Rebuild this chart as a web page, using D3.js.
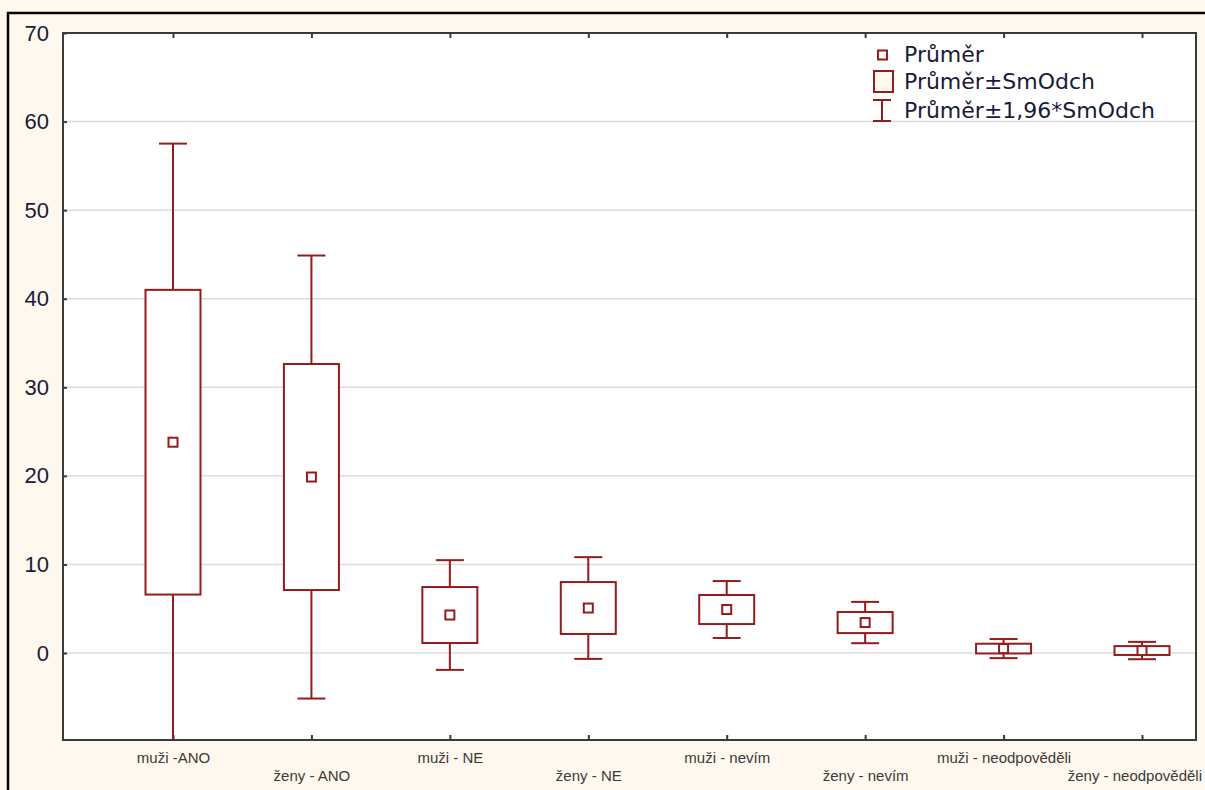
<!DOCTYPE html>
<html>
<head>
<meta charset="utf-8">
<script src="https://cdn.jsdelivr.net/npm/d3@7"></script>
<style>
  html, body { margin: 0; padding: 0; background: #fff8ee; }
  svg { display: block; }
</style>
</head>
<body>
<svg id="chart" width="1205" height="790"></svg>
<script>
// Groups (respondents by sex and answer)
const categories = [
  "muži -ANO", "ženy - ANO", "muži - NE", "ženy - NE",
  "muži - nevím", "ženy - nevím", "muži - neodpověděli", "ženy - neodpověděli"
];
// Mean per group
const means = [23.8, 19.87, 4.29, 5.08, 4.91, 3.44, 0.50, 0.28];
// Standard deviation per group
const sds = [17.2, 12.76, 3.16, 2.93, 1.64, 1.19, 0.55, 0.50];
// Y-axis tick values
const yTicks = [0, 10, 20, 30, 40, 50, 60, 70];
// Legend entries
const legendLabels = ["Průměr", "Průměr±SmOdch", "Průměr±1,96*SmOdch"];

const W = 1205, H = 790;
const plot = { left: 63, top: 33, right: 1196, bottom: 740 };
const red = "#931c1c";
const frame = "#3a3a3a";

const svg = d3.select("#chart");

// outer frame
svg.append("path")
  .attr("d", `M8,${H + 5} L8,13 L${W + 5},13`)
  .attr("fill", "none").attr("stroke", "#000").attr("stroke-width", 2.5);

const y = d3.scaleLinear().domain([-9.82, 70]).range([plot.bottom, plot.top]);
const x = d3.scalePoint().domain(categories)
  .range([plot.left + 110, plot.right - 54]);

// plot background
svg.append("rect")
  .attr("x", plot.left).attr("y", plot.top)
  .attr("width", plot.right - plot.left).attr("height", plot.bottom - plot.top)
  .attr("fill", "#fff");

svg.append("clipPath").attr("id", "clip")
  .append("rect")
  .attr("x", plot.left).attr("y", plot.top)
  .attr("width", plot.right - plot.left).attr("height", plot.bottom - plot.top);

// horizontal grid
svg.append("g").selectAll("line").data(yTicks).join("line")
  .attr("x1", plot.left).attr("x2", plot.right)
  .attr("y1", d => y(d)).attr("y2", d => y(d))
  .attr("stroke", "#dcdcdc").attr("stroke-width", 1.5);

// y axis labels and ticks
const yAxis = d3.axisLeft(y).tickValues(yTicks).tickSize(-4).tickPadding(14);
const gy = svg.append("g").attr("transform", `translate(${plot.left},0)`).call(yAxis);
gy.select(".domain").remove();
gy.selectAll(".tick line").attr("stroke", frame).attr("stroke-width", 2);
gy.selectAll(".tick text")
  .attr("font-family", "Liberation Sans, Arial, sans-serif")
  .attr("font-size", 22).attr("fill", "#1a1a38");

// top and bottom category ticks (inside)
const xTop = d3.axisTop(x).tickSize(-5).tickFormat("");
const gxt = svg.append("g").attr("transform", `translate(0,${plot.top})`).call(xTop);
gxt.select(".domain").remove();
gxt.selectAll(".tick line").attr("stroke", frame).attr("stroke-width", 2);

const xBottom = d3.axisBottom(x).tickSize(-5).tickPadding(0);
const gxb = svg.append("g").attr("transform", `translate(0,${plot.bottom})`).call(xBottom);
gxb.select(".domain").remove();
gxb.selectAll(".tick line").attr("stroke", frame).attr("stroke-width", 2);
gxb.selectAll(".tick text")
  .attr("font-family", "Liberation Sans, Arial, sans-serif")
  .attr("font-size", 15).attr("fill", "#3a3a3a")
  .attr("dy", null)
  .attr("y", (d, i) => i % 2 === 0 ? 23 : 41);
// keep the last label inside the page edge
gxb.selectAll(".tick text")
  .filter((d, i, n) => i === n.length - 1)
  .attr("text-anchor", "end")
  .attr("x", function () {
    const t = d3.select(this.parentNode).attr("transform");
    const tx = +t.match(/translate\(([-\d.]+)/)[1];
    return (W - 3) - tx;
  });

// box plots
const g = svg.append("g").attr("clip-path", "url(#clip)");
const boxW = 55, capW = 28, markW = 9;
const groups = g.selectAll("g.grp").data(categories).join("g").attr("class", "grp");

groups.append("line")
  .attr("x1", d => x(d)).attr("x2", d => x(d))
  .attr("y1", (d, i) => y(means[i] + 1.96 * sds[i]))
  .attr("y2", (d, i) => y(means[i] - 1.96 * sds[i]))
  .attr("stroke", red).attr("stroke-width", 2);
[1, -1].forEach(s => {
  groups.append("line")
    .attr("x1", d => x(d) - capW / 2).attr("x2", d => x(d) + capW / 2)
    .attr("y1", (d, i) => y(means[i] + s * 1.96 * sds[i]))
    .attr("y2", (d, i) => y(means[i] + s * 1.96 * sds[i]))
    .attr("stroke", red).attr("stroke-width", 2);
});
groups.append("rect")
  .attr("x", d => x(d) - boxW / 2).attr("width", boxW)
  .attr("y", (d, i) => y(means[i] + sds[i]))
  .attr("height", (d, i) => y(means[i] - sds[i]) - y(means[i] + sds[i]))
  .attr("fill", "#fff").attr("stroke", red).attr("stroke-width", 2);
groups.append("rect")
  .attr("x", d => x(d) - markW / 2).attr("width", markW)
  .attr("y", (d, i) => y(means[i]) - markW / 2).attr("height", markW)
  .attr("fill", "#fff").attr("stroke", red).attr("stroke-width", 2);

// plot frame
svg.append("rect")
  .attr("x", plot.left).attr("y", plot.top)
  .attr("width", plot.right - plot.left).attr("height", plot.bottom - plot.top)
  .attr("fill", "none").attr("stroke", frame).attr("stroke-width", 2);

// legend
const lg = svg.append("g").attr("transform", "translate(870,42)");
lg.append("rect").attr("x", 0).attr("y", 0).attr("width", 300).attr("height", 77).attr("fill", "#fff");
const rowY = [13, 40, 69];
lg.append("rect").attr("x", 8).attr("y", rowY[0] - 4.5).attr("width", 9).attr("height", 9)
  .attr("fill", "#fff8ee").attr("stroke", red).attr("stroke-width", 2);
lg.append("rect").attr("x", 4).attr("y", rowY[1] - 11).attr("width", 19).attr("height", 21)
  .attr("fill", "#fff8ee").attr("stroke", red).attr("stroke-width", 2);
lg.append("path")
  .attr("d", `M3,${rowY[2] - 11}H21M12,${rowY[2] - 11}V${rowY[2] + 10}M3,${rowY[2] + 10}H21`)
  .attr("fill", "none").attr("stroke", red).attr("stroke-width", 2);
lg.selectAll("text").data(legendLabels).join("text")
  .attr("x", 34).attr("y", (d, i) => rowY[i] + 7)
  .attr("font-family", "DejaVu Sans, Verdana, sans-serif")
  .attr("font-size", 22).attr("fill", "#1a1a38")
  .text(d => d);
</script>
</body>
</html>
